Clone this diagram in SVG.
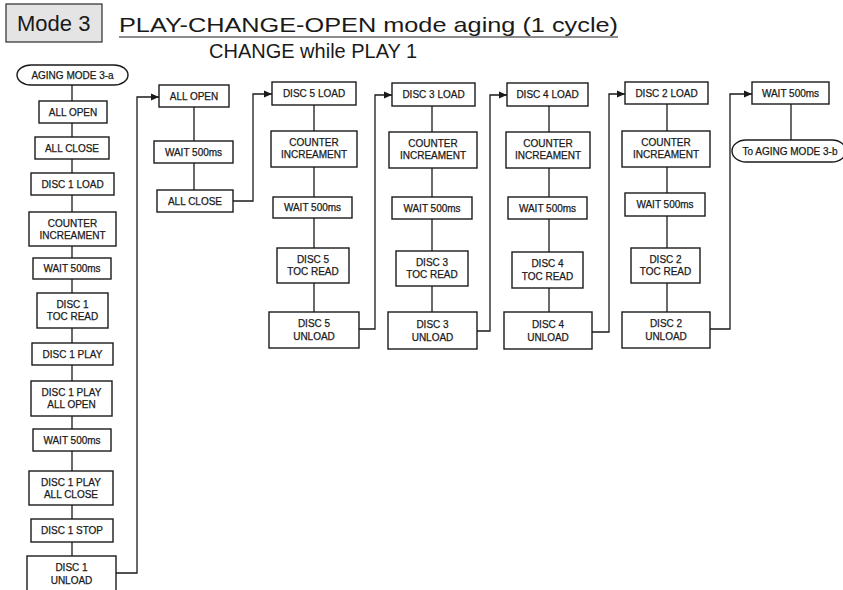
<svg xmlns="http://www.w3.org/2000/svg" width="843" height="590" viewBox="0 0 843 590">
  <style>
    .box { fill: #ffffff; stroke: #1a1a1a; stroke-width: 1.4; }
    .lbl { font-family: "Liberation Sans", Arial, sans-serif; font-size: 10px; fill: #1a1a1a; stroke: #1a1a1a; stroke-width: 0.25; text-anchor: middle; }
    .wire { fill: none; stroke: #1a1a1a; stroke-width: 1.3; }
    .head { font-family: "Liberation Sans", Arial, sans-serif; fill: #1a1a1a; }
  </style>
  <defs>
    <marker id="arrow" viewBox="0 0 8 8" refX="8" refY="4" markerWidth="8" markerHeight="8" markerUnits="userSpaceOnUse" orient="auto">
      <path d="M0,0.5 L8,4 L0,7.5 Z" fill="#1a1a1a"/>
    </marker>
  </defs>

  <rect width="843" height="590" fill="#ffffff"/>

  <!-- heading -->
  <g id="heading">
    <rect x="6" y="4" width="96" height="38" fill="#e4e4e4" stroke="#2a2a2a" stroke-width="1.2"/>
    <text class="head" x="17" y="31" font-size="22">Mode 3</text>
    <text class="head" x="119" y="32" font-size="21" textLength="499" lengthAdjust="spacingAndGlyphs">PLAY-CHANGE-OPEN mode aging (1 cycle)</text>
    <line x1="119" y1="37" x2="618" y2="37" stroke="#1a1a1a" stroke-width="1.2"/>
    <text class="head" x="209" y="58" font-size="20">CHANGE while PLAY 1</text>
  </g>

  <!-- connectors -->
  <g id="connectors">
    <!-- vertical flow inside each column -->
    <line class="wire" x1="72" y1="85" x2="72" y2="556"/>
    <line class="wire" x1="194" y1="107" x2="194" y2="190"/>
    <line class="wire" x1="314" y1="105" x2="314" y2="312"/>
    <line class="wire" x1="432" y1="106" x2="432" y2="312"/>
    <line class="wire" x1="549" y1="106" x2="549" y2="312"/>
    <line class="wire" x1="667" y1="104" x2="667" y2="312"/>
    <line class="wire" x1="791" y1="104" x2="791" y2="140"/>
    <!-- column to column jumps -->
    <path class="wire" d="M116,573 H137 V97 H159" marker-end="url(#arrow)"/>
    <path class="wire" d="M233,201 H253 V94 H272" marker-end="url(#arrow)"/>
    <path class="wire" d="M359,329 H375 V95 H392" marker-end="url(#arrow)"/>
    <path class="wire" d="M477,331 H490 V95 H507" marker-end="url(#arrow)"/>
    <path class="wire" d="M592,332 H609 V94 H625" marker-end="url(#arrow)"/>
    <path class="wire" d="M710,329 H730 V94 H752" marker-end="url(#arrow)"/>
  </g>

  <!-- column 1 -->
  <g id="start-3a"><rect class="box" x="17" y="65" width="111" height="20" rx="14" ry="10"/><text class="lbl" x="72.5" y="79">AGING MODE 3-a</text></g>
  <g id="c1-all-open"><rect class="box" x="39" y="101" width="68" height="22"/><text class="lbl" x="73" y="116">ALL OPEN</text></g>
  <g id="c1-all-close"><rect class="box" x="35" y="137" width="74" height="22"/><text class="lbl" x="72" y="152">ALL CLOSE</text></g>
  <g id="c1-disc1-load"><rect class="box" x="31" y="173" width="83" height="22"/><text class="lbl" x="72.5" y="188">DISC 1 LOAD</text></g>
  <g id="c1-counter"><rect class="box" x="29" y="212" width="87" height="34"/><text class="lbl" x="72.5" y="227">COUNTER</text><text class="lbl" x="72.5" y="239">INCREAMENT</text></g>
  <g id="c1-wait-1"><rect class="box" x="33" y="258" width="78" height="21"/><text class="lbl" x="72" y="272">WAIT 500ms</text></g>
  <g id="c1-toc"><rect class="box" x="37" y="293" width="71" height="35"/><text class="lbl" x="72.5" y="308">DISC 1</text><text class="lbl" x="72.5" y="320">TOC READ</text></g>
  <g id="c1-play"><rect class="box" x="32" y="343" width="81" height="22"/><text class="lbl" x="72.5" y="358">DISC 1 PLAY</text></g>
  <g id="c1-play-open"><rect class="box" x="31" y="381" width="81" height="35"/><text class="lbl" x="71.5" y="396">DISC 1 PLAY</text><text class="lbl" x="71.5" y="408">ALL OPEN</text></g>
  <g id="c1-wait-2"><rect class="box" x="33" y="429" width="78" height="22"/><text class="lbl" x="72" y="444">WAIT 500ms</text></g>
  <g id="c1-play-close"><rect class="box" x="29" y="471" width="84" height="34"/><text class="lbl" x="71" y="486">DISC 1 PLAY</text><text class="lbl" x="71" y="498">ALL CLOSE</text></g>
  <g id="c1-stop"><rect class="box" x="31" y="519" width="82" height="23"/><text class="lbl" x="72" y="534">DISC 1 STOP</text></g>
  <g id="c1-unload"><rect class="box" x="27" y="556" width="89" height="40"/><text class="lbl" x="71.5" y="571">DISC 1</text><text class="lbl" x="71.5" y="584">UNLOAD</text></g>

  <!-- column 2 -->
  <g id="c2-all-open"><rect class="box" x="159" y="85" width="70" height="22"/><text class="lbl" x="194" y="100">ALL OPEN</text></g>
  <g id="c2-wait"><rect class="box" x="154" y="141" width="79" height="22"/><text class="lbl" x="193.5" y="156">WAIT 500ms</text></g>
  <g id="c2-all-close"><rect class="box" x="157" y="190" width="76" height="22"/><text class="lbl" x="195" y="205">ALL CLOSE</text></g>

  <!-- column 3: disc 5 -->
  <g id="c3-load"><rect class="box" x="272" y="82" width="84" height="23"/><text class="lbl" x="314" y="97">DISC 5 LOAD</text></g>
  <g id="c3-counter"><rect class="box" x="271" y="131" width="86" height="36"/><text class="lbl" x="314" y="146">COUNTER</text><text class="lbl" x="314" y="158">INCREAMENT</text></g>
  <g id="c3-wait"><rect class="box" x="273" y="197" width="79" height="21"/><text class="lbl" x="312.5" y="211">WAIT 500ms</text></g>
  <g id="c3-toc"><rect class="box" x="277" y="248" width="72" height="35"/><text class="lbl" x="313" y="263">DISC 5</text><text class="lbl" x="313" y="275">TOC READ</text></g>
  <g id="c3-unload"><rect class="box" x="269" y="312" width="90" height="36"/><text class="lbl" x="314" y="327">DISC 5</text><text class="lbl" x="314" y="340">UNLOAD</text></g>

  <!-- column 4: disc 3 -->
  <g id="c4-load"><rect class="box" x="392" y="83" width="83" height="23"/><text class="lbl" x="433.5" y="98">DISC 3 LOAD</text></g>
  <g id="c4-counter"><rect class="box" x="389" y="132" width="88" height="36"/><text class="lbl" x="433" y="147">COUNTER</text><text class="lbl" x="433" y="159">INCREAMENT</text></g>
  <g id="c4-wait"><rect class="box" x="392" y="197" width="80" height="22"/><text class="lbl" x="432" y="212">WAIT 500ms</text></g>
  <g id="c4-toc"><rect class="box" x="396" y="251" width="72" height="35"/><text class="lbl" x="432" y="266">DISC 3</text><text class="lbl" x="432" y="278">TOC READ</text></g>
  <g id="c4-unload"><rect class="box" x="388" y="312" width="89" height="37"/><text class="lbl" x="432.5" y="328">DISC 3</text><text class="lbl" x="432.5" y="341">UNLOAD</text></g>

  <!-- column 5: disc 4 -->
  <g id="c5-load"><rect class="box" x="507" y="83" width="81" height="23"/><text class="lbl" x="547.5" y="98">DISC 4 LOAD</text></g>
  <g id="c5-counter"><rect class="box" x="506" y="132" width="84" height="36"/><text class="lbl" x="548" y="147">COUNTER</text><text class="lbl" x="548" y="159">INCREAMENT</text></g>
  <g id="c5-wait"><rect class="box" x="508" y="197" width="79" height="22"/><text class="lbl" x="547.5" y="212">WAIT 500ms</text></g>
  <g id="c5-toc"><rect class="box" x="512" y="252" width="71" height="36"/><text class="lbl" x="547.5" y="267">DISC 4</text><text class="lbl" x="547.5" y="280">TOC READ</text></g>
  <g id="c5-unload"><rect class="box" x="504" y="312" width="88" height="37"/><text class="lbl" x="548" y="328">DISC 4</text><text class="lbl" x="548" y="341">UNLOAD</text></g>

  <!-- column 6: disc 2 -->
  <g id="c6-load"><rect class="box" x="625" y="82" width="83" height="22"/><text class="lbl" x="666.5" y="97">DISC 2 LOAD</text></g>
  <g id="c6-counter"><rect class="box" x="622" y="131" width="88" height="36"/><text class="lbl" x="666" y="146">COUNTER</text><text class="lbl" x="666" y="158">INCREAMENT</text></g>
  <g id="c6-wait"><rect class="box" x="625" y="193" width="80" height="23"/><text class="lbl" x="665" y="208">WAIT 500ms</text></g>
  <g id="c6-toc"><rect class="box" x="631" y="248" width="69" height="35"/><text class="lbl" x="665.5" y="263">DISC 2</text><text class="lbl" x="665.5" y="275">TOC READ</text></g>
  <g id="c6-unload"><rect class="box" x="622" y="312" width="88" height="36"/><text class="lbl" x="666" y="327">DISC 2</text><text class="lbl" x="666" y="340">UNLOAD</text></g>

  <!-- column 7 -->
  <g id="c7-wait"><rect class="box" x="752" y="82" width="77" height="22"/><text class="lbl" x="790.5" y="97">WAIT 500ms</text></g>
  <g id="end-3b"><rect class="box" x="732" y="140" width="114" height="22" rx="14" ry="11"/><text class="lbl" x="790" y="155">To AGING MODE 3-b</text></g>
</svg>
